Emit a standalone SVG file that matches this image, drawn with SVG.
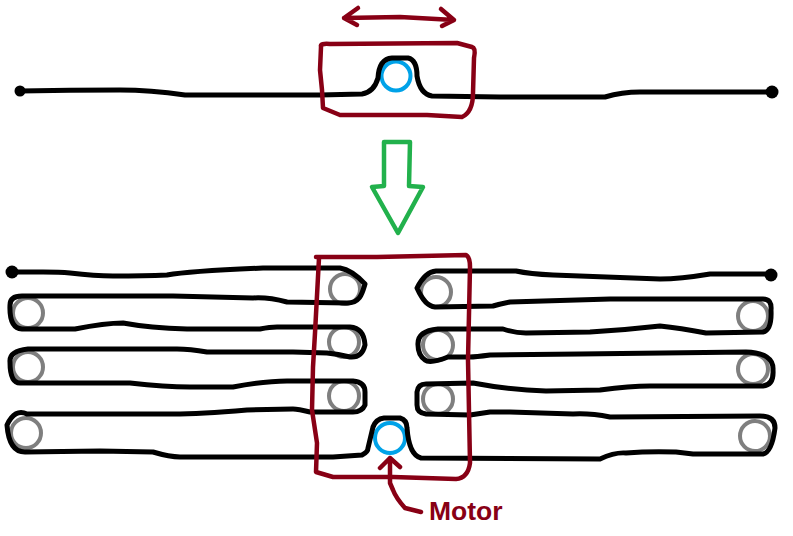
<svg xmlns="http://www.w3.org/2000/svg" width="793" height="536" viewBox="0 0 793 536">
<style>
.b{fill:none;stroke:#000;stroke-width:5;stroke-linecap:round;stroke-linejoin:round}
.r{fill:none;stroke:#880015;stroke-width:4.5;stroke-linecap:round;stroke-linejoin:round}
.g{fill:none;stroke:#7f7f7f;stroke-width:4}
.c{fill:none;stroke:#00a2e8;stroke-width:4}
.d{fill:#000}
text{font-family:"Liberation Sans",Arial,sans-serif;font-weight:700;font-size:26.5px;fill:#880015}
</style>
<rect width="793" height="536" fill="#fff"/>
<g id="top-pulley"><circle class="c" cx="396" cy="76" r="14.5"/></g>
<g id="bottom-motor"><circle class="c" cx="390" cy="438" r="15"/></g>
<g id="pulleys">
<circle class="g" cx="28" cy="313" r="15"/><circle class="g" cx="28" cy="367" r="15"/><circle class="g" cx="26" cy="433" r="15"/>
<circle class="g" cx="345" cy="289" r="15"/><circle class="g" cx="344" cy="342" r="15"/><circle class="g" cx="344" cy="396" r="15"/>
<circle class="g" cx="436" cy="292" r="15"/><circle class="g" cx="438" cy="345" r="15"/><circle class="g" cx="438" cy="399" r="15"/>
<circle class="g" cx="753" cy="316" r="15"/><circle class="g" cx="753" cy="369" r="15"/><circle class="g" cx="755" cy="436" r="15"/>
</g>
<g id="connectors">
<path class="b" d="M20 91Q70 90 120 90Q150 90 185 95L320 95L362 94Q374 92 378 78Q379 59 392 58L408 58Q417 60 417 76Q420 94 432 96L500 97L605 97Q622 92 640 92L772 92"/>
<path class="b" d="M12 272L43 272Q60 272 70 273Q95 276 113 276Q145 276 167 275Q190 271 263 268L340 268Q352 270 365 284C362 294 360 303 347 303L287 302Q268 297 253 298L173 296L83 296L22 296Q10 296 10 305Q9 328 22 329L75 329Q105 323 123 323Q150 328 187 329L260 329Q270 327 277 327L350 327Q364 328 365 345Q362 358 350 357Q338 354 327 353L293 352L207 352Q190 349 177 349L28 349Q9 351 10 362Q10 383 20 383L130 383Q165 387 190 387L233 387Q265 381 287 381L353 381Q365 382 365 392L365 405Q362 412 353 412L310 412Q298 409 293 409L247 410Q200 414 173 414L27 414Q15 408 7 425Q9 452 25 452L100 451L153 452Q170 457 180 457L333 457L362 455Q368 452 368 448L373 427Q376 419 384 418L400 418Q407 420 407 428Q409 455 421 458L600 459Q615 452 626 453Q650 451 676 452L693 454L763 454Q772 452 775 428Q775 416 760 416L610 417Q590 413 573 414L510 412L490 412L470 415L426 414Q417 413 417 405L417 392Q418 384 426 384L473 383Q510 390 546 391L600 390Q630 386 650 386L763 386Q774 385 773 370Q774 353 746 352L580 354L490 355Q475 357 470 357L448 357Q430 364 425 360Q418 355 418 345Q417 331 438 329L503 329Q515 333 526 333L590 332Q625 330 660 326Q680 328 706 333L763 332Q772 330 771 310Q772 299 763 299L693 299L610 299L510 302Q500 304 493 306L435 307Q425 306 417 288Q425 272 436 271L516 271Q530 274 553 275L660 279Q680 279 710 274L770 274"/>
<path class="r" d="M321 47Q320 43 330 44L457 43L472 47Q476 48 474 58L473 93Q473 112 462 117L427 115L340 115L323 108L322 90L320 70Z"/>
<path class="r" d="M316 257L377 257L466 255Q470 257 470 267L468 360L470 463Q468 478 456 479L393 477L333 477L316 472L317 443L312 410L313 367L315 333L319 258"/>
<path fill="none" stroke="#22b14c" stroke-width="4.5" stroke-linejoin="round" d="M384 142L410 142L409 186L423 187L398 233L372 187L384 186Z"/>
<path class="r" d="M344 18L400 17L454 20M358 8L344 18L357 25M441 9L454 20L442 26"/>
<path class="r" d="M421 512L405 508Q396 498 393 490L390 483L390 458M380 468L390 458L400 467"/>
</g>
<circle class="d" cx="20" cy="91" r="5.5"/><circle class="d" cx="772" cy="92" r="6.5"/>
<circle class="d" cx="12" cy="272" r="6.5"/><circle class="d" cx="771" cy="275" r="6.5"/>
<text x="429" y="520">Motor</text>
</svg>
